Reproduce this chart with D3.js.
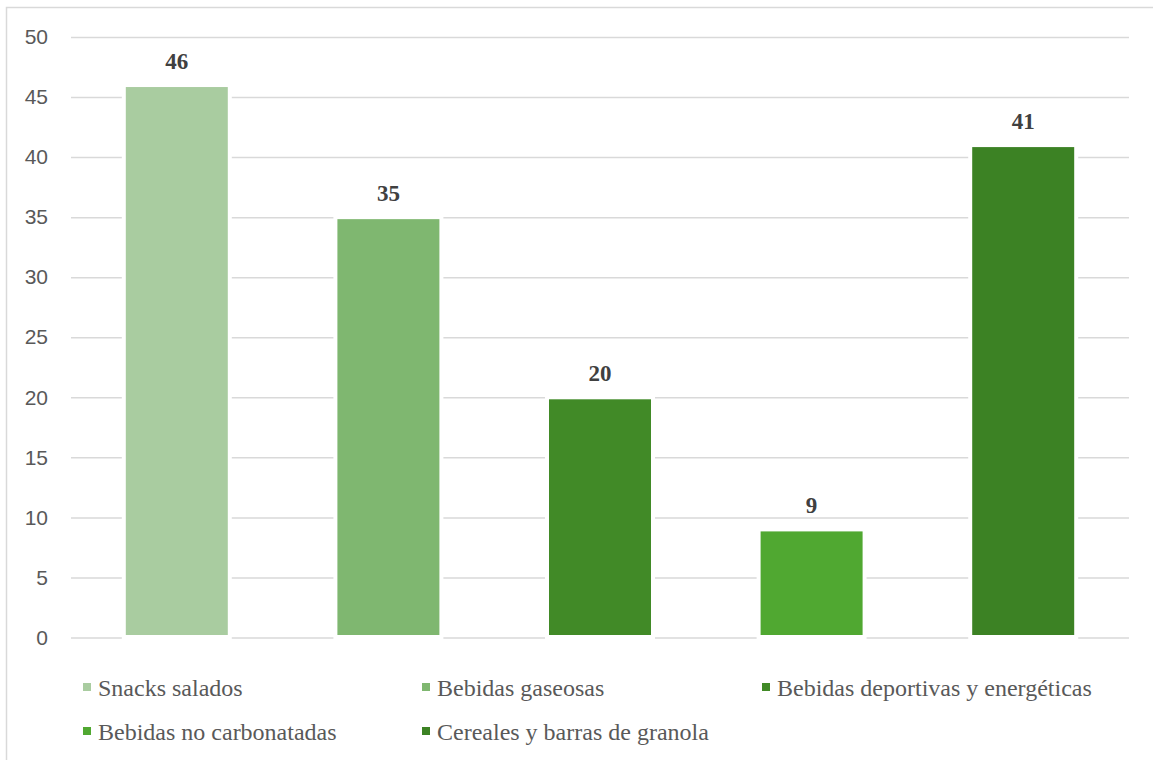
<!DOCTYPE html>
<html>
<head>
<meta charset="utf-8">
<script src="https://cdn.jsdelivr.net/npm/d3@7"></script>
<style>
  html, body { margin: 0; padding: 0; background: #fff; }
  svg { display: block; }
</style>
</head>
<body>
<svg id="chart" width="1153" height="760"></svg>
<script>
// Categories, values and colours for the bar chart
const categories = [
  "Snacks salados",
  "Bebidas gaseosas",
  "Bebidas deportivas y energéticas",
  "Bebidas no carbonatadas",
  "Cereales y barras de granola"
];
const values = [46, 35, 20, 9, 41];
const colors = ["#a9cca0", "#7fb770", "#418a27", "#50a831", "#3c8224"];
const yTicks = [0, 5, 10, 15, 20, 25, 30, 35, 40, 45, 50];

const svg = d3.select("#chart");

// Outer frame
svg.append("rect")
  .attr("x", 6.5).attr("y", 7.5)
  .attr("width", 1200).attr("height", 800)
  .attr("fill", "none")
  .attr("stroke", "#d9d9d9")
  .attr("stroke-width", 1.5);

const plot = { left: 71, right: 1129, top: 37, bottom: 637.5 };

const x = d3.scaleBand()
  .domain(categories)
  .range([plot.left, plot.right])
  .paddingInner(0.518)
  .paddingOuter(0.259);

const y = d3.scaleLinear()
  .domain([0, 50])
  .range([plot.bottom, plot.top]);

// Y axis with full-width gridlines
const yAxis = d3.axisLeft(y)
  .tickValues(yTicks)
  .tickSize(-(plot.right - plot.left))
  .tickPadding(23)
  .tickFormat(d3.format("d"));

const gAxis = svg.append("g")
  .attr("transform", `translate(${plot.left},0)`)
  .call(yAxis);
gAxis.select(".domain").remove();
gAxis.selectAll(".tick line")
  .attr("stroke", "#d9d9d9")
  .attr("stroke-width", 1.5);
gAxis.selectAll(".tick text")
  .attr("fill", "#595959")
  .attr("font-family", "'Liberation Sans', Arial, sans-serif")
  .attr("font-size", 21);

// Bars: a white halo behind each bar breaks the gridlines around it
const bars = svg.append("g");
const data = categories.map((c, i) => ({ cat: c, value: values[i], color: colors[i] }));

bars.selectAll("rect.halo")
  .data(data)
  .join("rect")
  .attr("class", "halo")
  .attr("x", d => x(d.cat) - 4)
  .attr("width", x.bandwidth() + 8)
  .attr("y", d => y(d.value) - 2)
  .attr("height", d => y(0) - y(d.value) + 4)
  .attr("fill", "#fff");

bars.selectAll("rect.bar")
  .data(data)
  .join("rect")
  .attr("class", "bar")
  .attr("x", d => x(d.cat))
  .attr("width", x.bandwidth())
  .attr("y", d => y(d.value) + 2)
  .attr("height", d => y(0) - y(d.value) - 4.5)
  .attr("fill", d => d.color);

// Value labels above the bars
svg.append("g").selectAll("text")
  .data(data)
  .join("text")
  .attr("x", d => x(d.cat) + x.bandwidth() / 2)
  .attr("y", d => y(d.value) - 16)
  .attr("text-anchor", "middle")
  .attr("font-family", "'Liberation Serif', 'Times New Roman', serif")
  .attr("font-weight", "bold")
  .attr("font-size", 23)
  .attr("fill", "#404040")
  .text(d => d.value);

// Legend: three columns, two rows
const legendCols = [83, 422, 762];
const legendRows = [696, 740];
const legend = svg.append("g").selectAll("g")
  .data(data)
  .join("g")
  .attr("transform", (d, i) => `translate(${legendCols[i % 3]},${legendRows[Math.floor(i / 3)]})`);

legend.append("rect")
  .attr("x", 0).attr("y", -13)
  .attr("width", 8).attr("height", 8)
  .attr("fill", d => d.color);

legend.append("text")
  .attr("x", 15).attr("y", 0)
  .attr("font-family", "'Liberation Serif', 'Times New Roman', serif")
  .attr("font-size", 24)
  .attr("fill", "#595959")
  .text(d => d.cat);
</script>
</body>
</html>
